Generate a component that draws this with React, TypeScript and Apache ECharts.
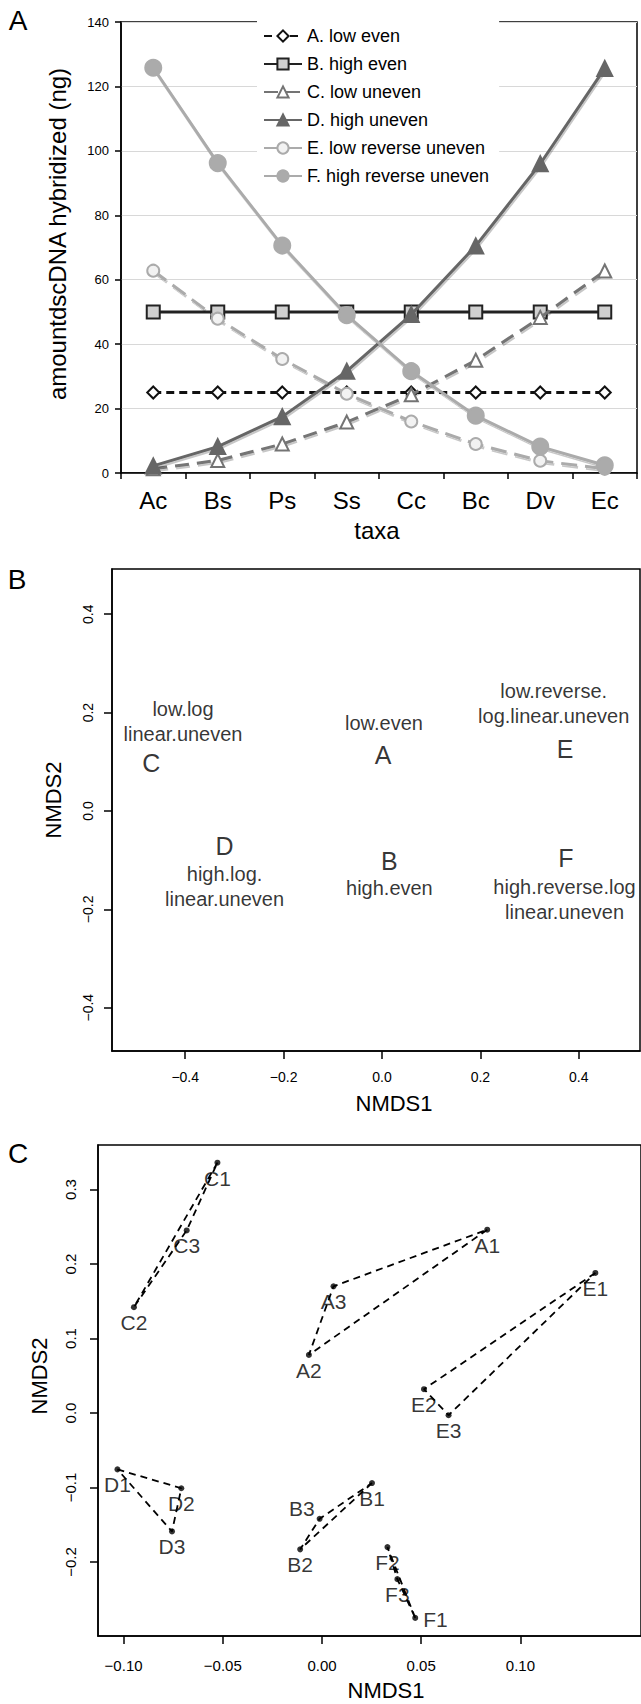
import React, { useEffect, useRef } from "react";
import * as echarts from "echarts";

const FONT = "'Liberation Sans', Arial, Helvetica, sans-serif";

// ---------- Panel A data ----------
const taxa = ["Ac", "Bs", "Ps", "Ss", "Cc", "Bc", "Dv", "Ec"];
const seriesNames = [
  "A. low even",
  "B. high even",
  "C. low uneven",
  "D. high uneven",
  "E. low reverse uneven",
  "F. high reverse uneven",
];
const lowEven = [25, 25, 25, 25, 25, 25, 25, 25];
const highEven = [50, 50, 50, 50, 50, 50, 50, 50];
const lowUneven = [1.3, 3.9, 9, 15.8, 24.3, 35, 48.3, 62.7];
const highUneven = [2.2, 8.2, 17.5, 31.6, 49.2, 70.5, 96, 125.6];
const lowReverseUneven = [62.8, 47.9, 35.4, 24.6, 16, 9, 3.8, 1.3];
const highReverseUneven = [125.8, 96.2, 70.6, 49, 31.6, 17.8, 8.2, 2.4];
const yTicksA = [0, 140, 20];

// ---------- Panel B data ----------
const groupLetters = ["A", "B", "C", "D", "E", "F"];
const groupX = [0.002, 0.015, -0.469, -0.32, 0.372, 0.374];
const groupY = [0.114, -0.101, 0.097, -0.071, 0.127, -0.096];
const groupNotes = [
  "low.even",
  "high.even",
  "low.log\nlinear.uneven",
  "high.log.\nlinear.uneven",
  "low.reverse.\nlog.linear.uneven",
  "high.reverse.log\nlinear.uneven",
];
const noteX = [0.004, 0.015, -0.4045, -0.32, 0.349, 0.371];
const noteY = [0.178, -0.157, 0.181, -0.1535, 0.219, -0.179];
const ticksB = [-0.4, -0.2, 0, 0.2, 0.4];

// ---------- Panel C data ----------
const repNames = [
  "A1", "A2", "A3", "B1", "B2", "B3", "C1", "C2", "C3",
  "D1", "D2", "D3", "E1", "E2", "E3", "F1", "F2", "F3",
];
const repX = [
  0.0833, -0.0066, 0.0058, 0.0252, -0.011, -0.0012, -0.0527, -0.0948, -0.0682,
  -0.1031, -0.0709, -0.0756, 0.1378, 0.0514, 0.0638, 0.047, 0.033, 0.038,
];
const repY = [
  0.246, 0.078, 0.17, -0.094, -0.183, -0.142, 0.336, 0.142, 0.245,
  -0.0757, -0.101, -0.159, 0.188, 0.032, -0.003, -0.275, -0.18, -0.223,
];
const ticksCx = [-0.1, -0.05, 0, 0.05, 0.1];
const ticksCy = [-0.2, -0.1, 0, 0.1, 0.2, 0.3];

const fmt = (v: number, d: number) =>
  (v < -1e-9 ? "\u2212" : "") + Math.abs(v).toFixed(d);

export default function App() {
  const ref = useRef<HTMLDivElement>(null);
  useEffect(() => {
    if (!ref.current) return;
    const chart = echarts.init(ref.current, undefined, { renderer: "svg" });

    const shadow = {
      shadowColor: "rgba(0,0,0,0.22)",
      shadowBlur: 1,
      shadowOffsetX: 1,
      shadowOffsetY: 2,
    };
    const aStyles = [
      { data: lowEven, symbol: "diamond", size: 12, line: "#111", dash: [8, 5] as any, fill: "#fff", border: "#111", sh: false },
      { data: highEven, symbol: "rect", size: 13, line: "#222", dash: "solid" as any, fill: "#d0d0d0", border: "#222", sh: false },
      { data: lowUneven, symbol: "triangle", size: 13, line: "#747474", dash: [14, 8] as any, fill: "#fff", border: "#747474", sh: true },
      { data: highUneven, symbol: "triangle", size: 15, line: "#666", dash: "solid" as any, fill: "#666", border: "#666", sh: true },
      { data: lowReverseUneven, symbol: "circle", size: 12, line: "#ababab", dash: [16, 8] as any, fill: "#f2f2f2", border: "#ababab", sh: true },
      { data: highReverseUneven, symbol: "circle", size: 16, line: "#ababab", dash: "solid" as any, fill: "#ababab", border: "#ababab", sh: true },
    ];
    const seriesA = aStyles.map((s, i) => ({
      name: seriesNames[i],
      type: "line",
      xAxisIndex: 0,
      yAxisIndex: 0,
      data: s.data,
      symbol: s.symbol,
      symbolSize: s.size,
      lineStyle: { color: s.line, width: 3, type: s.dash, ...(s.sh ? shadow : {}) },
      itemStyle: { color: s.fill, borderColor: s.border, borderWidth: 2 },
      emphasis: { disabled: true },
      z: 3 + i,
    }));

    const seriesBLetters = {
      type: "scatter",
      xAxisIndex: 1,
      yAxisIndex: 1,
      symbolSize: 1,
      itemStyle: { color: "rgba(0,0,0,0)" },
      data: groupLetters.map((g, i) => ({ name: g, value: [groupX[i], groupY[i]] })),
      label: {
        show: true,
        position: "inside",
        formatter: "{b}",
        fontSize: 25,
        color: "#000",
        fontFamily: FONT,
      },
      emphasis: { disabled: true },
    };
    const seriesBNotes = {
      type: "scatter",
      xAxisIndex: 1,
      yAxisIndex: 1,
      symbolSize: 1,
      itemStyle: { color: "rgba(0,0,0,0)" },
      data: groupNotes.map((t, i) => ({ name: t, value: [noteX[i], noteY[i]] })),
      label: {
        show: true,
        position: "inside",
        formatter: "{b}",
        fontSize: 20,
        lineHeight: 25,
        align: "center",
        color: "#000",
        fontFamily: FONT,
      },
      emphasis: { disabled: true },
    };

    const seriesCLines = groupLetters.map((g) => {
      const idx = [1, 2, 3].map((k) => repNames.indexOf(g + k));
      const pts = [...idx, idx[0]].map((j) => [repX[j], repY[j]]);
      return {
        type: "line",
        xAxisIndex: 2,
        yAxisIndex: 2,
        data: pts,
        symbol: "none",
        lineStyle: { color: "#000", width: 1.8, type: [7, 5] },
        emphasis: { disabled: true },
        z: 2,
      };
    });
    const labelOverride: Record<string, any> = {
      B3: { position: "left", distance: 2, offset: [0, -10] },
      F1: { position: "right", distance: 5, offset: [0, 2] },
    };
    const seriesCPoints = {
      type: "scatter",
      xAxisIndex: 2,
      yAxisIndex: 2,
      symbol: "circle",
      symbolSize: 6,
      itemStyle: { color: "#000" },
      data: repNames.map((n, i) => ({
        name: n,
        value: [repX[i], repY[i]],
        label: labelOverride[n] || undefined,
      })),
      label: {
        show: true,
        position: "bottom",
        distance: 2,
        formatter: "{b}",
        fontSize: 21,
        color: "#000",
        fontFamily: FONT,
      },
      emphasis: { disabled: true },
      z: 4,
    };

    const axisLine = { show: true, onZero: false, lineStyle: { color: "#000", width: 1.5 } };
    const tick = (len: number, custom?: number[]) => ({
      show: true,
      length: len,
      inside: false,
      lineStyle: { color: "#000", width: 1.5 },
      ...(custom ? { customValues: custom } : {}),
    });

    const text = (x: number, y: number, t: string, size: number, rot = 0) => ({
      type: "text",
      x,
      y,
      rotation: rot,
      style: {
        text: t,
        fontSize: size,
        fontFamily: FONT,
        fill: "#000",
        align: "center",
        verticalAlign: "middle",
      },
    });

    chart.setOption({
      animation: false,
      backgroundColor: "#fff",
      grid: [
        { left: 121, top: 22, width: 516, height: 451, show: true, borderColor: "#000", borderWidth: 1.5, backgroundColor: "transparent" },
        { left: 112, top: 569, width: 528, height: 482, show: true, borderColor: "#000", borderWidth: 1.5, backgroundColor: "transparent" },
        { left: 98, top: 1145, width: 577, height: 491, show: true, borderColor: "#000", borderWidth: 1.5, backgroundColor: "transparent" },
      ],
      xAxis: [
        {
          type: "category",
          gridIndex: 0,
          data: taxa,
          boundaryGap: true,
          axisLine,
          axisTick: tick(6),
          axisLabel: { fontSize: 24, margin: 15, color: "#000", fontFamily: FONT },
          splitLine: { show: false },
        },
        {
          type: "value",
          gridIndex: 1,
          min: -0.5488,
          max: 0.5244,
          axisLine,
          axisTick: tick(8, ticksB),
          axisLabel: { customValues: ticksB, fontSize: 14, margin: 19, color: "#000", fontFamily: FONT, formatter: (v: number) => fmt(v, 1) },
          splitLine: { show: false },
        },
        {
          type: "value",
          gridIndex: 2,
          min: -0.1129,
          max: 0.1608,
          axisLine,
          axisTick: tick(8, ticksCx),
          axisLabel: { customValues: ticksCx, fontSize: 15, margin: 22, color: "#000", fontFamily: FONT, formatter: (v: number) => fmt(v, 2) },
          splitLine: { show: false },
        },
      ],
      yAxis: [
        {
          type: "value",
          gridIndex: 0,
          min: yTicksA[0],
          max: yTicksA[1],
          interval: yTicksA[2],
          axisLine,
          axisTick: tick(6),
          axisLabel: { fontSize: 13, margin: 12, color: "#000", fontFamily: FONT },
          splitLine: { show: true, lineStyle: { color: "#d8d8d8", width: 1 } },
        },
        {
          type: "value",
          gridIndex: 1,
          min: -0.488,
          max: 0.492,
          axisLine,
          axisTick: tick(8, ticksB),
          axisLabel: { customValues: ticksB, rotate: 90, fontSize: 14, margin: 17, color: "#000", fontFamily: FONT, formatter: (v: number) => fmt(v, 1) },
          splitLine: { show: false },
        },
        {
          type: "value",
          gridIndex: 2,
          min: -0.2993,
          max: 0.3597,
          axisLine,
          axisTick: tick(8, ticksCy),
          axisLabel: { customValues: ticksCy, rotate: 90, fontSize: 15, margin: 20, color: "#000", fontFamily: FONT, formatter: (v: number) => fmt(v, 1) },
          splitLine: { show: false },
        },
      ],
      legend: {
        data: seriesNames,
        orient: "vertical",
        left: 257,
        top: 19,
        padding: [8, 10, 8, 6],
        backgroundColor: "#fff",
        itemGap: 10,
        itemWidth: 38,
        itemHeight: 14,
        selectedMode: false,
        textStyle: { fontSize: 18, color: "#000", fontFamily: FONT },
      },
      graphic: [
        text(18, 20, "A", 28),
        text(17, 579, "B", 28),
        text(18, 1153, "C", 28),
        text(57, 234, "amountdscDNA hybridized (ng)", 24, Math.PI / 2),
        text(377, 530, "taxa", 24),
        text(53, 800, "NMDS2", 22, Math.PI / 2),
        text(394, 1103, "NMDS1", 22),
        text(39, 1376, "NMDS2", 22, Math.PI / 2),
        text(386, 1690, "NMDS1", 22),
      ],
      series: [...seriesA, seriesBLetters, seriesBNotes, ...seriesCLines, seriesCPoints],
    });
    return () => chart.dispose();
  }, []);

  return (
    <div
      ref={ref}
      style={{ position: "absolute", left: 0, top: 0, width: 641, height: 1704, background: "#fff" }}
    />
  );
}
